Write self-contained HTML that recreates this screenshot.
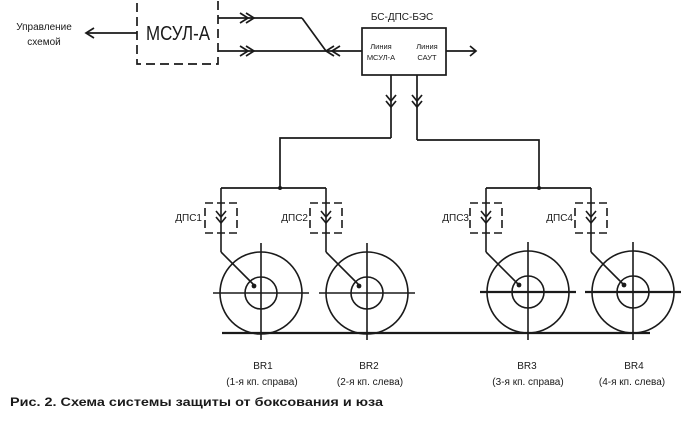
<!DOCTYPE html>
<html><head><meta charset="utf-8"><style>
html,body{margin:0;padding:0;background:#fff;width:700px;height:429px;overflow:hidden}
svg{display:block}
text{font-family:"Liberation Sans","DejaVu Sans",sans-serif;fill:#1a1a1a}
</style></head><body>
<svg width="700" height="429" viewBox="0 0 700 429" xmlns="http://www.w3.org/2000/svg">
<g fill="none" stroke="#1a1a1a" stroke-width="1.7">
<rect x="137" y="-2" width="81" height="66" stroke-dasharray="9,5"/>
<line x1="137" y1="33" x2="86" y2="33"/>
<polyline points="94,28 86,33 94,38"/>
<line x1="218" y1="18" x2="302" y2="18"/>
<polyline points="240,13 248,18 240,23"/><polyline points="246,13 254,18 246,23"/>
<line x1="302" y1="18" x2="326" y2="51"/>
<line x1="218" y1="51" x2="362" y2="51"/>
<polyline points="240,46 248,51 240,56"/><polyline points="246,46 254,51 246,56"/>
<polyline points="334,46 326,51 334,56"/><polyline points="340,46 332,51 340,56"/>
<rect x="362" y="28" width="84" height="47"/>
<line x1="446" y1="51" x2="476" y2="51"/>
<polyline points="470,46 476,51 470,56"/>
<line x1="391" y1="75" x2="391" y2="138"/>
<polyline points="386,95 391,101 396,95"/><polyline points="386,101 391,107 396,101"/>
<line x1="417" y1="75" x2="417" y2="140"/>
<polyline points="412,95 417,101 422,95"/><polyline points="412,101 417,107 422,101"/>
<polyline points="391,138 280,138 280,188"/>
<polyline points="417,140 539,140 539,188"/>
<line x1="221" y1="188" x2="326" y2="188"/>
<line x1="486" y1="188" x2="591" y2="188"/>
<line x1="222" y1="333" x2="650" y2="333" stroke-width="2.2"/>
</g>
<circle cx="280" cy="188" r="2" fill="#1a1a1a"/>
<circle cx="539" cy="188" r="2" fill="#1a1a1a"/>
<g fill="none" stroke="#1a1a1a" stroke-width="1.6">
<g transform="translate(221,0)">
 <line x1="0" y1="188" x2="0" y2="252"/>
 <polyline points="-5,211 0,217 5,211"/><polyline points="-5,217 0,223 5,217"/>
 <path d="M-16,203 H16 M-16,233 H16 M-16,208 V228 M16,208 V228" stroke-dasharray="8,4"/>
 <line x1="0" y1="252" x2="33" y2="285"/>
</g>
<g transform="translate(326,0)">
 <line x1="0" y1="188" x2="0" y2="252"/>
 <polyline points="-5,211 0,217 5,211"/><polyline points="-5,217 0,223 5,217"/>
 <path d="M-16,203 H16 M-16,233 H16 M-16,208 V228 M16,208 V228" stroke-dasharray="8,4"/>
 <line x1="0" y1="252" x2="33" y2="285"/>
</g>
<g transform="translate(486,0)">
 <line x1="0" y1="188" x2="0" y2="252"/>
 <polyline points="-5,211 0,217 5,211"/><polyline points="-5,217 0,223 5,217"/>
 <path d="M-16,203 H16 M-16,233 H16 M-16,208 V228 M16,208 V228" stroke-dasharray="8,4"/>
 <line x1="0" y1="252" x2="33" y2="285"/>
</g>
<g transform="translate(591,0)">
 <line x1="0" y1="188" x2="0" y2="252"/>
 <polyline points="-5,211 0,217 5,211"/><polyline points="-5,217 0,223 5,217"/>
 <path d="M-16,203 H16 M-16,233 H16 M-16,208 V228 M16,208 V228" stroke-dasharray="8,4"/>
 <line x1="0" y1="252" x2="33" y2="285"/>
</g>
<g transform="translate(261,293)">
 <circle r="41"/><circle r="16"/>
 <line x1="-48" y1="0" x2="48" y2="0"/><line x1="0" y1="-50" x2="0" y2="47"/>
</g>
<g transform="translate(367,293)">
 <circle r="41"/><circle r="16"/>
 <line x1="-48" y1="0" x2="48" y2="0"/><line x1="0" y1="-50" x2="0" y2="47"/>
</g>
<g transform="translate(528,292)">
 <circle r="41"/><circle r="16"/>
 <line x1="-48" y1="0" x2="48" y2="0" stroke-width="2.2"/><line x1="0" y1="-50" x2="0" y2="48"/>
</g>
<g transform="translate(633,292)">
 <circle r="41"/><circle r="16"/>
 <line x1="-48" y1="0" x2="48" y2="0" stroke-width="2.2"/><line x1="0" y1="-50" x2="0" y2="48"/>
</g>
</g>
<g fill="#1a1a1a">
<circle cx="254" cy="286" r="2.4"/><circle cx="359" cy="286" r="2.4"/>
<circle cx="519" cy="285" r="2.4"/><circle cx="624" cy="285" r="2.4"/>
</g>
<text x="146" y="40" font-size="20" textLength="64" lengthAdjust="spacingAndGlyphs">МСУЛ-А</text>
<text x="44" y="30" font-size="10" text-anchor="middle">Управление</text>
<text x="44" y="45" font-size="10" text-anchor="middle">схемой</text>
<text x="402" y="20" font-size="10" text-anchor="middle">БС-ДПС-БЭС</text>
<text x="381" y="49" font-size="7.5" text-anchor="middle">Линия</text>
<text x="381" y="60" font-size="7.5" text-anchor="middle">МСУЛ-А</text>
<text x="427" y="49" font-size="7.5" text-anchor="middle">Линия</text>
<text x="427" y="60" font-size="7.5" text-anchor="middle">САУТ</text>
<text x="202" y="221" font-size="10" text-anchor="end">ДПС1</text>
<text x="308" y="221" font-size="10" text-anchor="end">ДПС2</text>
<text x="469" y="221" font-size="10" text-anchor="end">ДПС3</text>
<text x="573" y="221" font-size="10" text-anchor="end">ДПС4</text>
<g font-size="10" text-anchor="middle">
<text x="263" y="369">BR1</text><text x="262" y="385">(1-я кп. справа)</text>
<text x="369" y="369">BR2</text><text x="370" y="385">(2-я кп. слева)</text>
<text x="527" y="369">BR3</text><text x="528" y="385">(3-я кп. справа)</text>
<text x="634" y="369">BR4</text><text x="632" y="385">(4-я кп. слева)</text>
</g>
<text x="10" y="406" font-size="11.5" font-weight="bold" fill="#1f2430" textLength="373" lengthAdjust="spacingAndGlyphs">Рис. 2. Схема системы защиты от боксования и юза</text>
</svg>
</body></html>
